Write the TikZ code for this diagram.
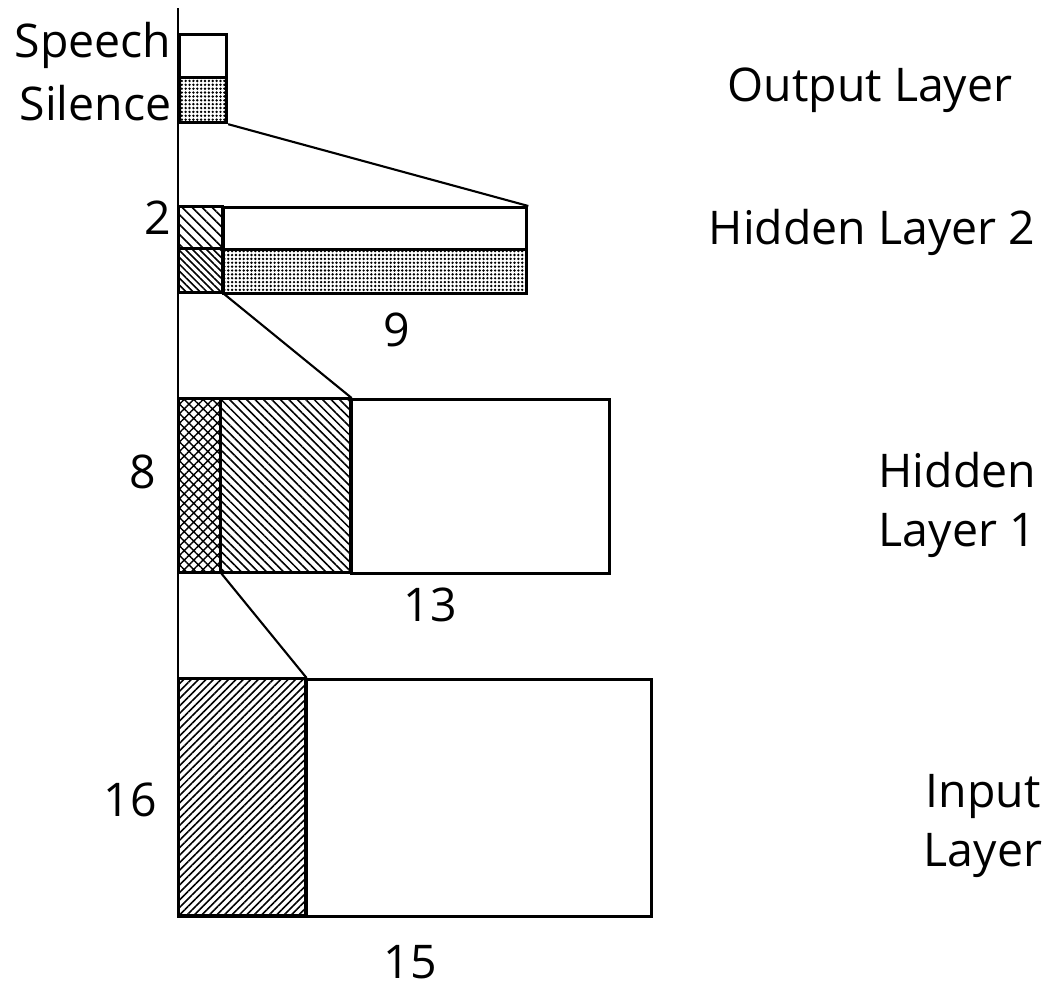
\documentclass[tikz,border=0pt]{standalone}
\usepackage{fontspec}
\setmainfont{Open Sans}
\usepackage{tikz}
\usetikzlibrary{positioning,patterns.meta}
\newcommand{\lblfont}{\fontsize{13.2}{17}\selectfont}

\begin{document}
\begin{tikzpicture}[x = .01cm, y = -.01cm,
    cell/.style = {draw, line width = .9pt, inner sep = 0pt, anchor = north west},
    lbl/.style = {font = \lblfont, inner sep = 0pt},
    conn/.style = {line width = .6pt}]
    \useasboundingbox (0,0) rectangle (1051,990);
    % output layer
    \node[cell, minimum width = .47cm, minimum height = .43cm] (spch) at (178,33) {};
    \node[cell, minimum width = .47cm, minimum height = .45cm, pattern = {Dots[distance = 1.1pt, radius = .38pt]}] (sil) at (178,76) {};
    % hidden layer 2
    \node[cell, minimum width = .44cm, minimum height = .42cm, pattern = {Lines[angle = -45, distance = 2pt, line width = .45pt]}] (hida) at (178,206) {};
    \node[cell, minimum width = 3.03cm, minimum height = .42cm] (hidb) at (222,206) {};
    \node[cell, minimum width = .44cm, minimum height = .44cm, pattern = {Lines[angle = -45, distance = 1.4pt, line width = .45pt]}] (hidc) at (178,248) {};
    \node[cell, minimum width = 3.03cm, minimum height = .44cm, pattern = {Dots[distance = 1.1pt, radius = .38pt]}] (hidd) at (222,248) {};
    % hidden layer 1
    \node[cell, minimum width = .42cm, minimum height = 1.74cm, pattern = {Hatch[angle = 45, distance = 1.9pt, line width = .4pt]}] (onea) at (178,398) {};
    \node[cell, minimum width = 1.3cm, minimum height = 1.74cm, pattern = {Lines[angle = -45, distance = 1.7pt, line width = .45pt]}] (oneb) at (220,398) {};
    \node[cell, minimum width = 2.58cm, minimum height = 1.74cm] (onec) at (350,398) {};
    % input layer
    \node[cell, minimum width = 1.27cm, minimum height = 2.37cm, pattern = {Lines[angle = 45, distance = 1.5pt, line width = .45pt]}] (ina) at (178,678) {};
    \node[cell, minimum width = 3.45cm, minimum height = 2.37cm] (inb) at (305,678) {};
    % connectors
    \coordinate (axtop) at (178,8);
    \draw[conn] (axtop) -- (ina.north west);
    \draw[conn] (sil.south east) -- (hidb.north east);
    \draw[conn] (hidc.south east) -- (oneb.north east);
    \draw[conn] (onea.south east) -- (ina.north east);
    % labels
    \node[lbl, anchor = east] (tspch) at (172,45) {Speech};
    \node[lbl, anchor = east] (tsil) at (172,103) {Silence};
    \node[lbl] (tout) at (870,90) {Output Layer};
    \node[lbl] (thid2) at (872,232) {Hidden Layer 2};
    \node[lbl] (ntwo) at (158,218) {2};
    \node[lbl] (nnine) at (397,330) {9};
    \node[lbl, align = left, anchor = west] (thid1) at (878,505) {Hidden\\Layer 1};
    \node[lbl] (neight) at (143,472) {8};
    \node[lbl] (nthirteen) at (430,605) {13};
    \node[lbl, align = center] (tin) at (983,826) {Input\\Layer};
    \node[lbl] (nsixteen) at (130,800) {16};
    \node[lbl] (nfifteen) at (410,962) {15};
\end{tikzpicture}
\end{document}
